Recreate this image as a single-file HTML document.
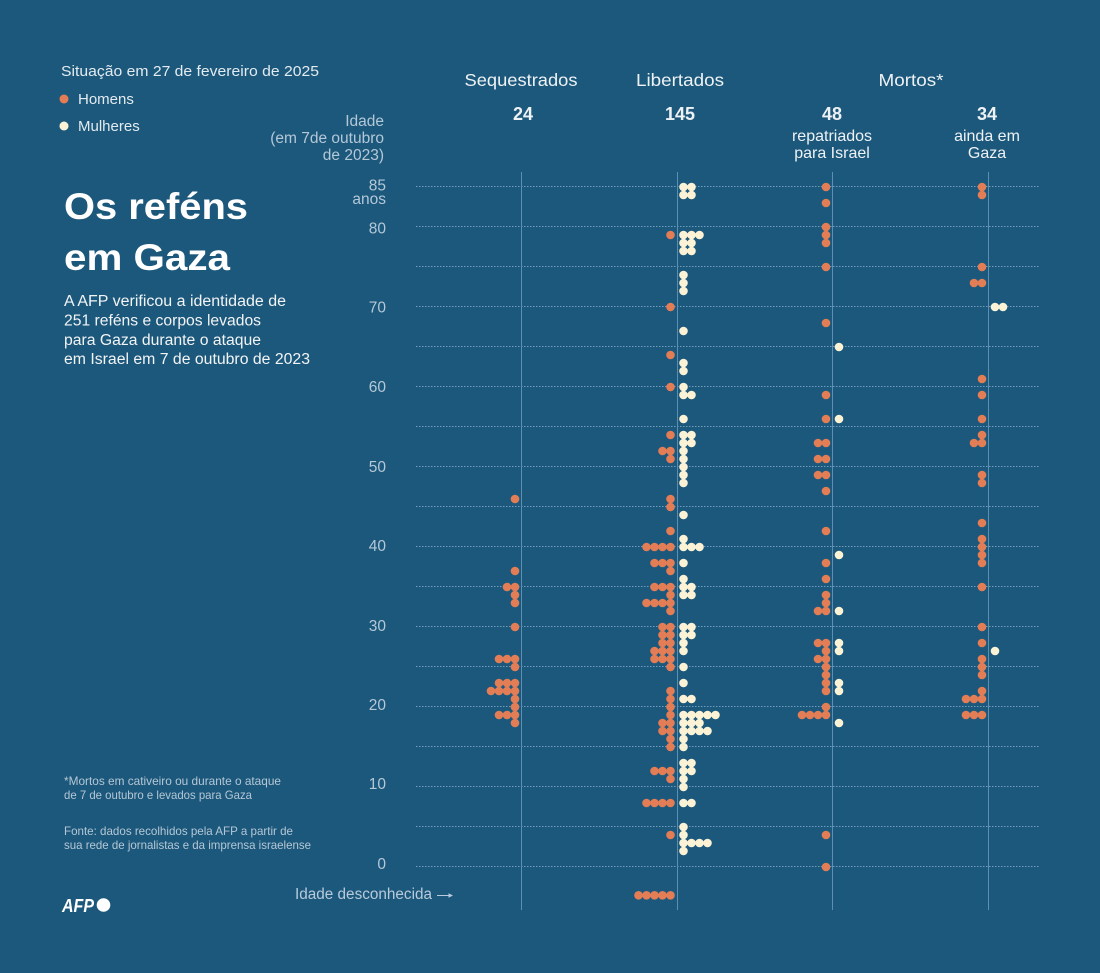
<!DOCTYPE html>
<html>
<head>
<meta charset="utf-8">
<style>
html,body{margin:0;padding:0;background:#1c587b;overflow:hidden;}
svg{display:block;}
text{font-family:"Liberation Sans",Arial,sans-serif;}
</style>
</head>
<body>
<svg width="1100" height="973" viewBox="0 0 1100 973" xmlns="http://www.w3.org/2000/svg">
<rect width="1100" height="973" fill="#1c587b"/>

<!-- Header / legend -->
<text x="61" y="76" font-size="15" fill="#e3ebf0" textLength="258" lengthAdjust="spacingAndGlyphs">Situação em 27 de fevereiro de 2025</text>
<circle cx="64" cy="99" r="4.5" fill="#e27d56"/>
<text x="78" y="104" font-size="15" fill="#e3ebf0">Homens</text>
<circle cx="64" cy="126" r="4.5" fill="#fcf2d6"/>
<text x="78" y="131" font-size="15" fill="#e3ebf0">Mulheres</text>

<g font-size="15.5" fill="#b4c8d8" text-anchor="end">
<text x="384" y="126">Idade</text>
<text x="384" y="143">(em 7de outubro</text>
<text x="384" y="160">de 2023)</text>
</g>

<!-- Title -->
<text x="64" y="219" font-size="37" font-weight="bold" fill="#ffffff" textLength="184" lengthAdjust="spacingAndGlyphs">Os reféns</text>
<text x="64" y="270" font-size="37" font-weight="bold" fill="#ffffff" textLength="166" lengthAdjust="spacingAndGlyphs">em Gaza</text>

<g font-size="15.5" fill="#f2f4f6">
<text x="64" y="306" textLength="222" lengthAdjust="spacingAndGlyphs">A AFP verificou a identidade de</text>
<text x="64" y="325.5" textLength="197" lengthAdjust="spacingAndGlyphs">251 reféns e corpos levados</text>
<text x="64" y="345" textLength="197" lengthAdjust="spacingAndGlyphs">para Gaza durante o ataque</text>
<text x="64" y="364" textLength="246" lengthAdjust="spacingAndGlyphs">em Israel em 7 de outubro de 2023</text>
</g>

<!-- Column headers -->
<g fill="#eef2f5" text-anchor="middle">
<text x="521" y="86" font-size="17.5" textLength="113" lengthAdjust="spacingAndGlyphs">Sequestrados</text>
<text x="680" y="86" font-size="17.5" textLength="88" lengthAdjust="spacingAndGlyphs">Libertados</text>
<text x="911" y="86" font-size="17.5" textLength="65" lengthAdjust="spacingAndGlyphs">Mortos*</text>
<text x="523" y="120" font-size="18" font-weight="bold">24</text>
<text x="680" y="120" font-size="18" font-weight="bold">145</text>
<text x="832" y="120" font-size="18" font-weight="bold">48</text>
<text x="987" y="120" font-size="18" font-weight="bold">34</text>
<text x="832" y="141" font-size="16">repatriados</text>
<text x="832" y="158" font-size="16">para Israel</text>
<text x="987" y="141" font-size="16">ainda em</text>
<text x="987" y="158" font-size="16">Gaza</text>
</g>

<!-- Y tick labels -->
<g font-size="15.5" fill="#b4c8d8" text-anchor="end">
<text x="386" y="190.5">85</text>
<text x="386" y="204">anos</text>
<text x="386" y="233.5">80</text>
<text x="386" y="312.5">70</text>
<text x="386" y="392">60</text>
<text x="386" y="472">50</text>
<text x="386" y="551">40</text>
<text x="386" y="631">30</text>
<text x="386" y="710">20</text>
<text x="386" y="789">10</text>
<text x="386" y="869">0</text>
</g>

<!-- Gridlines -->
<g stroke="#7fa9c9" stroke-width="1" stroke-dasharray="1.5 1.5" opacity="0.85">
<line x1="416" x2="1040" y1="186.5" y2="186.5"/>
<line x1="416" x2="1040" y1="226.5" y2="226.5"/>
<line x1="416" x2="1040" y1="266.5" y2="266.5"/>
<line x1="416" x2="1040" y1="306.5" y2="306.5"/>
<line x1="416" x2="1040" y1="346.5" y2="346.5"/>
<line x1="416" x2="1040" y1="386.5" y2="386.5"/>
<line x1="416" x2="1040" y1="426.5" y2="426.5"/>
<line x1="416" x2="1040" y1="466.5" y2="466.5"/>
<line x1="416" x2="1040" y1="506.5" y2="506.5"/>
<line x1="416" x2="1040" y1="546.5" y2="546.5"/>
<line x1="416" x2="1040" y1="586.5" y2="586.5"/>
<line x1="416" x2="1040" y1="626.5" y2="626.5"/>
<line x1="416" x2="1040" y1="666.5" y2="666.5"/>
<line x1="416" x2="1040" y1="706.5" y2="706.5"/>
<line x1="416" x2="1040" y1="746.5" y2="746.5"/>
<line x1="416" x2="1040" y1="786.5" y2="786.5"/>
<line x1="416" x2="1040" y1="826.5" y2="826.5"/>
<line x1="416" x2="1040" y1="866.5" y2="866.5"/>
</g>

<!-- Vertical column lines -->
<g stroke="#5d8fb4" stroke-width="1">
<line x1="521.5" x2="521.5" y1="172" y2="910"/>
<line x1="677.5" x2="677.5" y1="172" y2="910"/>
<line x1="832.5" x2="832.5" y1="172" y2="910"/>
<line x1="988.5" x2="988.5" y1="172" y2="910"/>
</g>

<!-- Dots: cy = 8*age (flipped group), y = 867 - 8*age -->
<g transform="matrix(1 0 0 -1 0 867)">
<g fill="#e27d56">
<!-- Sequestrados -->
<circle cx="515" cy="368" r="4.3"/>
<circle cx="515" cy="296" r="4.3"/>
<circle cx="515" cy="280" r="4.3"/><circle cx="507" cy="280" r="4.3"/>
<circle cx="515" cy="272" r="4.3"/>
<circle cx="515" cy="264" r="4.3"/>
<circle cx="515" cy="240" r="4.3"/>
<circle cx="515" cy="208" r="4.3"/><circle cx="507" cy="208" r="4.3"/><circle cx="499" cy="208" r="4.3"/>
<circle cx="515" cy="200" r="4.3"/>
<circle cx="515" cy="184" r="4.3"/><circle cx="507" cy="184" r="4.3"/><circle cx="499" cy="184" r="4.3"/>
<circle cx="515" cy="176" r="4.3"/><circle cx="507" cy="176" r="4.3"/><circle cx="499" cy="176" r="4.3"/><circle cx="491" cy="176" r="4.3"/>
<circle cx="515" cy="168" r="4.3"/>
<circle cx="515" cy="160" r="4.3"/>
<circle cx="515" cy="152" r="4.3"/><circle cx="507" cy="152" r="4.3"/><circle cx="499" cy="152" r="4.3"/>
<circle cx="515" cy="144" r="4.3"/>

<!-- Libertados homens -->
<circle cx="670.5" cy="632" r="4.3"/>
<circle cx="670.5" cy="560" r="4.3"/>
<circle cx="670.5" cy="512" r="4.3"/>
<circle cx="670.5" cy="480" r="4.3"/>
<circle cx="670.5" cy="432" r="4.3"/>
<circle cx="670.5" cy="416" r="4.3"/><circle cx="662.5" cy="416" r="4.3"/>
<circle cx="670.5" cy="408" r="4.3"/>
<circle cx="670.5" cy="368" r="4.3"/>
<circle cx="670.5" cy="360" r="4.3"/>
<circle cx="670.5" cy="336" r="4.3"/>
<circle cx="670.5" cy="320" r="4.3"/><circle cx="662.5" cy="320" r="4.3"/><circle cx="654.5" cy="320" r="4.3"/><circle cx="646.5" cy="320" r="4.3"/>
<circle cx="670.5" cy="304" r="4.3"/><circle cx="662.5" cy="304" r="4.3"/><circle cx="654.5" cy="304" r="4.3"/>
<circle cx="670.5" cy="296" r="4.3"/>
<circle cx="670.5" cy="280" r="4.3"/><circle cx="662.5" cy="280" r="4.3"/><circle cx="654.5" cy="280" r="4.3"/>
<circle cx="670.5" cy="272" r="4.3"/>
<circle cx="670.5" cy="264" r="4.3"/><circle cx="662.5" cy="264" r="4.3"/><circle cx="654.5" cy="264" r="4.3"/><circle cx="646.5" cy="264" r="4.3"/>
<circle cx="670.5" cy="256" r="4.3"/>
<circle cx="670.5" cy="240" r="4.3"/><circle cx="662.5" cy="240" r="4.3"/>
<circle cx="670.5" cy="232" r="4.3"/><circle cx="662.5" cy="232" r="4.3"/>
<circle cx="670.5" cy="224" r="4.3"/><circle cx="662.5" cy="224" r="4.3"/>
<circle cx="670.5" cy="216" r="4.3"/><circle cx="662.5" cy="216" r="4.3"/><circle cx="654.5" cy="216" r="4.3"/>
<circle cx="670.5" cy="208" r="4.3"/><circle cx="662.5" cy="208" r="4.3"/><circle cx="654.5" cy="208" r="4.3"/>
<circle cx="670.5" cy="200" r="4.3"/>
<circle cx="670.5" cy="176" r="4.3"/>
<circle cx="670.5" cy="168" r="4.3"/>
<circle cx="670.5" cy="160" r="4.3"/>
<circle cx="670.5" cy="152" r="4.3"/>
<circle cx="670.5" cy="144" r="4.3"/><circle cx="662.5" cy="144" r="4.3"/>
<circle cx="670.5" cy="136" r="4.3"/><circle cx="662.5" cy="136" r="4.3"/>
<circle cx="670.5" cy="128" r="4.3"/>
<circle cx="670.5" cy="120" r="4.3"/>
<circle cx="670.5" cy="96" r="4.3"/><circle cx="662.5" cy="96" r="4.3"/><circle cx="654.5" cy="96" r="4.3"/>
<circle cx="670.5" cy="88" r="4.3"/>
<circle cx="670.5" cy="64" r="4.3"/><circle cx="662.5" cy="64" r="4.3"/><circle cx="654.5" cy="64" r="4.3"/><circle cx="646.5" cy="64" r="4.3"/>
<circle cx="670.5" cy="32" r="4.3"/>
<circle cx="670.5" cy="-28.3" r="4.3"/><circle cx="662.5" cy="-28.3" r="4.3"/><circle cx="654.5" cy="-28.3" r="4.3"/><circle cx="646.5" cy="-28.3" r="4.3"/><circle cx="638.5" cy="-28.3" r="4.3"/>

<!-- Repatriados homens -->
<circle cx="826" cy="680" r="4.3"/>
<circle cx="826" cy="664" r="4.3"/>
<circle cx="826" cy="640" r="4.3"/>
<circle cx="826" cy="632" r="4.3"/>
<circle cx="826" cy="624" r="4.3"/>
<circle cx="826" cy="600" r="4.3"/>
<circle cx="826" cy="544" r="4.3"/>
<circle cx="826" cy="472" r="4.3"/>
<circle cx="826" cy="448" r="4.3"/>
<circle cx="826" cy="424" r="4.3"/><circle cx="818" cy="424" r="4.3"/>
<circle cx="826" cy="408" r="4.3"/><circle cx="818" cy="408" r="4.3"/>
<circle cx="826" cy="392" r="4.3"/><circle cx="818" cy="392" r="4.3"/>
<circle cx="826" cy="376" r="4.3"/>
<circle cx="826" cy="336" r="4.3"/>
<circle cx="826" cy="304" r="4.3"/>
<circle cx="826" cy="288" r="4.3"/>
<circle cx="826" cy="272" r="4.3"/>
<circle cx="826" cy="264" r="4.3"/>
<circle cx="826" cy="256" r="4.3"/><circle cx="818" cy="256" r="4.3"/>
<circle cx="826" cy="224" r="4.3"/><circle cx="818" cy="224" r="4.3"/>
<circle cx="826" cy="216" r="4.3"/>
<circle cx="826" cy="208" r="4.3"/><circle cx="818" cy="208" r="4.3"/>
<circle cx="826" cy="200" r="4.3"/>
<circle cx="826" cy="192" r="4.3"/>
<circle cx="826" cy="184" r="4.3"/>
<circle cx="826" cy="176" r="4.3"/>
<circle cx="826" cy="160" r="4.3"/>
<circle cx="826" cy="152" r="4.3"/><circle cx="818" cy="152" r="4.3"/><circle cx="810" cy="152" r="4.3"/><circle cx="802" cy="152" r="4.3"/>
<circle cx="826" cy="32" r="4.3"/>
<circle cx="826" cy="0" r="4.3"/>

<!-- Ainda em Gaza homens -->
<circle cx="982" cy="680" r="4.3"/>
<circle cx="982" cy="672" r="4.3"/>
<circle cx="982" cy="600" r="4.3"/>
<circle cx="982" cy="584" r="4.3"/><circle cx="974" cy="584" r="4.3"/>
<circle cx="982" cy="488" r="4.3"/>
<circle cx="982" cy="472" r="4.3"/>
<circle cx="982" cy="448" r="4.3"/>
<circle cx="982" cy="432" r="4.3"/>
<circle cx="982" cy="424" r="4.3"/><circle cx="974" cy="424" r="4.3"/>
<circle cx="982" cy="392" r="4.3"/>
<circle cx="982" cy="384" r="4.3"/>
<circle cx="982" cy="344" r="4.3"/>
<circle cx="982" cy="328" r="4.3"/>
<circle cx="982" cy="320" r="4.3"/>
<circle cx="982" cy="312" r="4.3"/>
<circle cx="982" cy="304" r="4.3"/>
<circle cx="982" cy="280" r="4.3"/>
<circle cx="982" cy="240" r="4.3"/>
<circle cx="982" cy="224" r="4.3"/>
<circle cx="982" cy="208" r="4.3"/>
<circle cx="982" cy="200" r="4.3"/>
<circle cx="982" cy="192" r="4.3"/>
<circle cx="982" cy="176" r="4.3"/>
<circle cx="982" cy="168" r="4.3"/><circle cx="974" cy="168" r="4.3"/><circle cx="966" cy="168" r="4.3"/>
<circle cx="982" cy="152" r="4.3"/><circle cx="974" cy="152" r="4.3"/><circle cx="966" cy="152" r="4.3"/>
</g>

<g fill="#fcf2d6">
<!-- Libertados mulheres -->
<circle cx="683.5" cy="680" r="4.3"/><circle cx="691.5" cy="680" r="4.3"/>
<circle cx="683.5" cy="672" r="4.3"/><circle cx="691.5" cy="672" r="4.3"/>
<circle cx="683.5" cy="632" r="4.3"/><circle cx="691.5" cy="632" r="4.3"/><circle cx="699.5" cy="632" r="4.3"/>
<circle cx="683.5" cy="624" r="4.3"/><circle cx="691.5" cy="624" r="4.3"/>
<circle cx="683.5" cy="616" r="4.3"/><circle cx="691.5" cy="616" r="4.3"/>
<circle cx="683.5" cy="592" r="4.3"/>
<circle cx="683.5" cy="584" r="4.3"/>
<circle cx="683.5" cy="576" r="4.3"/>
<circle cx="683.5" cy="536" r="4.3"/>
<circle cx="683.5" cy="504" r="4.3"/>
<circle cx="683.5" cy="496" r="4.3"/>
<circle cx="683.5" cy="480" r="4.3"/>
<circle cx="683.5" cy="472" r="4.3"/><circle cx="691.5" cy="472" r="4.3"/>
<circle cx="683.5" cy="448" r="4.3"/>
<circle cx="683.5" cy="432" r="4.3"/><circle cx="691.5" cy="432" r="4.3"/>
<circle cx="683.5" cy="424" r="4.3"/><circle cx="691.5" cy="424" r="4.3"/>
<circle cx="683.5" cy="416" r="4.3"/>
<circle cx="683.5" cy="408" r="4.3"/>
<circle cx="683.5" cy="400" r="4.3"/>
<circle cx="683.5" cy="392" r="4.3"/>
<circle cx="683.5" cy="384" r="4.3"/>
<circle cx="683.5" cy="352" r="4.3"/>
<circle cx="683.5" cy="328" r="4.3"/>
<circle cx="683.5" cy="320" r="4.3"/><circle cx="691.5" cy="320" r="4.3"/><circle cx="699.5" cy="320" r="4.3"/>
<circle cx="683.5" cy="304" r="4.3"/>
<circle cx="683.5" cy="288" r="4.3"/>
<circle cx="683.5" cy="280" r="4.3"/><circle cx="691.5" cy="280" r="4.3"/>
<circle cx="683.5" cy="272" r="4.3"/><circle cx="691.5" cy="272" r="4.3"/>
<circle cx="683.5" cy="240" r="4.3"/><circle cx="691.5" cy="240" r="4.3"/>
<circle cx="683.5" cy="232" r="4.3"/><circle cx="691.5" cy="232" r="4.3"/>
<circle cx="683.5" cy="224" r="4.3"/>
<circle cx="683.5" cy="216" r="4.3"/>
<circle cx="683.5" cy="200" r="4.3"/>
<circle cx="683.5" cy="184" r="4.3"/>
<circle cx="683.5" cy="168" r="4.3"/><circle cx="691.5" cy="168" r="4.3"/>
<circle cx="683.5" cy="152" r="4.3"/><circle cx="691.5" cy="152" r="4.3"/><circle cx="699.5" cy="152" r="4.3"/><circle cx="707.5" cy="152" r="4.3"/><circle cx="715.5" cy="152" r="4.3"/>
<circle cx="683.5" cy="144" r="4.3"/><circle cx="691.5" cy="144" r="4.3"/><circle cx="699.5" cy="144" r="4.3"/>
<circle cx="683.5" cy="136" r="4.3"/><circle cx="691.5" cy="136" r="4.3"/><circle cx="699.5" cy="136" r="4.3"/><circle cx="707.5" cy="136" r="4.3"/>
<circle cx="683.5" cy="128" r="4.3"/>
<circle cx="683.5" cy="120" r="4.3"/>
<circle cx="683.5" cy="104" r="4.3"/><circle cx="691.5" cy="104" r="4.3"/>
<circle cx="683.5" cy="96" r="4.3"/><circle cx="691.5" cy="96" r="4.3"/>
<circle cx="683.5" cy="88" r="4.3"/>
<circle cx="683.5" cy="80" r="4.3"/>
<circle cx="683.5" cy="64" r="4.3"/><circle cx="691.5" cy="64" r="4.3"/>
<circle cx="683.5" cy="40" r="4.3"/>
<circle cx="683.5" cy="32" r="4.3"/>
<circle cx="683.5" cy="24" r="4.3"/><circle cx="691.5" cy="24" r="4.3"/><circle cx="699.5" cy="24" r="4.3"/><circle cx="707.5" cy="24" r="4.3"/>
<circle cx="683.5" cy="16" r="4.3"/>

<!-- Repatriados mulheres -->
<circle cx="839" cy="520" r="4.3"/>
<circle cx="839" cy="448" r="4.3"/>
<circle cx="839" cy="312" r="4.3"/>
<circle cx="839" cy="256" r="4.3"/>
<circle cx="839" cy="224" r="4.3"/>
<circle cx="839" cy="216" r="4.3"/>
<circle cx="839" cy="184" r="4.3"/>
<circle cx="839" cy="176" r="4.3"/>
<circle cx="839" cy="144" r="4.3"/>

<!-- Ainda em Gaza mulheres -->
<circle cx="995" cy="560" r="4.3"/><circle cx="1003" cy="560" r="4.3"/>
<circle cx="995" cy="216" r="4.3"/>
</g>
</g>

<!-- Footnotes -->
<g font-size="12" fill="#b5c7d6">
<text x="64" y="785" textLength="217" lengthAdjust="spacingAndGlyphs">*Mortos em cativeiro ou durante o ataque</text>
<text x="64" y="799" textLength="188" lengthAdjust="spacingAndGlyphs">de 7 de outubro e levados para Gaza</text>
<text x="64" y="835" textLength="229" lengthAdjust="spacingAndGlyphs">Fonte: dados recolhidos pela AFP a partir de</text>
<text x="64" y="849" textLength="247" lengthAdjust="spacingAndGlyphs">sua rede de jornalistas e da imprensa israelense</text>
</g>

<!-- Unknown age label -->
<text x="295" y="899" font-size="15.5" fill="#b8cadb" textLength="137" lengthAdjust="spacingAndGlyphs">Idade desconhecida</text>
<line x1="437" y1="895.5" x2="451" y2="895.5" stroke="#b8cadb" stroke-width="1"/>
<path d="M448.5 893.3 L453 895.5 L448.5 897.7 Z" fill="#b8cadb"/>

<!-- AFP logo -->
<text x="62" y="912" font-size="18" font-weight="bold" font-style="italic" fill="#ffffff" textLength="32" lengthAdjust="spacingAndGlyphs">AFP</text>
<circle cx="103.5" cy="905" r="6.8" fill="#ffffff"/>
</svg>
</body>
</html>
